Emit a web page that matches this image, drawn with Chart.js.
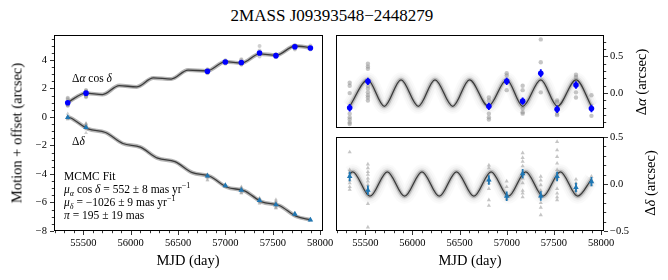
<!DOCTYPE html>
<html lang="en">
<head>
<meta charset="UTF-8">
<title>2MASS J09393548−2448279</title>
<script src="https://cdn.jsdelivr.net/npm/chart.js"></script>
<style>
  body { margin: 0; background: #fff; font-family: 'Liberation Serif', serif; color: #000; }
  #fig { position: relative; width: 668px; height: 280px; overflow: hidden; }
  canvas { position: absolute; }
  .txt { position: absolute; white-space: nowrap; }
  .rot { transform: translate(-50%, -50%) rotate(-90deg); }
  .cen { transform: translate(-50%, -50%); }
  sup, sub { font-size: 0.7em; line-height: 0; }
</style>
</head>
<body>
<div id="fig">
  <canvas id="motion" width="340" height="252" style="left:0;top:28px"></canvas>
  <canvas id="raRes" width="338" height="105" style="left:330px;top:28px"></canvas>
  <canvas id="decRes" width="338" height="150" style="left:330px;top:130px"></canvas>

  <div class="txt cen" style="left:332px;top:16px;font-size:17px">2MASS J09393548−2448279</div>
  <div class="txt rot" style="left:17px;top:133px;font-size:14.5px">Motion + offset (arcsec)</div>
  <div class="txt cen" style="left:188px;top:260px;font-size:14.5px">MJD (day)</div>
  <div class="txt cen" style="left:470px;top:260px;font-size:14.5px">MJD (day)</div>
  <div class="txt rot" style="left:641px;top:82px;font-size:14.5px">Δ<i>α</i> (arcsec)</div>
  <div class="txt rot" style="left:650px;top:183px;font-size:14.5px">Δ<i>δ</i> (arcsec)</div>

  <div class="txt" style="left:72px;top:72px;font-size:11.5px">Δ<i>α</i> cos <i>δ</i></div>
  <div class="txt" style="left:72px;top:135px;font-size:11.5px">Δ<i>δ</i></div>
  <div class="txt" style="left:64px;top:170px;font-size:11.5px;line-height:13px">MCMC Fit<br><i>μ</i><sub><i>α</i></sub> cos <i>δ</i> = 552 ± 8 mas yr<sup>−1</sup><br><i>μ</i><sub><i>δ</i></sub> = −1026 ± 9 mas yr<sup>−1</sup><br><i>π</i> = 195 ± 19 mas</div>
</div>

<script>
// observation epochs (MJD)
const epochs = [55335, 55528, 56810, 56999, 57168, 57360, 57533, 57733, 57897];

// left panel: mean positions per epoch (arcsec)
const raLeft  = [1.00, 1.67, 3.21, 3.86, 3.82, 4.49, 4.30, 4.93, 4.84];
const decLeft = [-0.03, -0.73, -4.13, -4.81, -5.13, -5.86, -6.16, -6.81, -7.23];

// left panel: single frames per epoch
const greyRaLeft = [
  [1.34, 1.30, 1.20, 0.92, 0.87, 0.84, 0.80, 0.78],
  [1.89, 1.85, 1.82, 1.59, 1.55, 1.50, 1.46, 1.43, 1.39],
  [3.35, 3.32, 3.14, 3.09, 3.06],
  [3.97, 3.94, 3.74],
  [4.05, 3.99, 3.74, 3.69, 3.67],
  [4.97, 4.66, 4.25],
  [4.40, 4.38, 4.22, 4.20],
  [5.05, 5.02, 4.81, 4.74],
  [5.02, 4.74]
];
const greyDecLeft = [
  [0.23, 0.04, 0.00, -0.03, -0.07, -0.10, -0.14, -0.17],
  [-0.44, -0.48, -0.51, -0.55, -0.59, -0.62, -0.66, -0.71, -0.75, -0.86, -1.11],
  [-4.03, -4.05, -4.18, -4.22, -4.27, -4.39, -4.45],
  [-4.73, -4.78, -4.87, -4.91],
  [-4.89, -4.94, -4.98, -5.03, -5.11, -5.16, -5.22, -5.29, -5.32, -5.36],
  [-5.68, -5.72, -5.77, -5.82, -5.90, -5.96, -6.01, -6.09],
  [-5.79, -5.88, -5.95, -6.02, -6.09, -6.18, -6.29, -6.34, -6.38, -6.41],
  [-6.75, -6.79, -6.86, -6.91],
  [-7.18, -7.21, -7.27]
];

// right panels: residual (parallax) per epoch
const raRes  = [-0.20, 0.16, -0.18, 0.16, -0.11, 0.27, -0.22, 0.11, -0.21];
const raErr  = [0.05, 0.05, 0.05, 0.05, 0.05, 0.055, 0.05, 0.05, 0.05];
const decRes = [0.08, -0.065, 0.043, -0.13, 0.11, -0.127, 0.08, -0.037, 0.025];
const decErr = [0.05, 0.05, 0.05, 0.05, 0.05, 0.05, 0.05, 0.05, 0.05];

const greyRaRes = [
  [0.14, 0.10, 0.00, -0.28, -0.33, -0.36, -0.40, -0.42],
  [0.40, 0.36, 0.33, 0.10, 0.06, 0.01, -0.03, -0.06, -0.10],
  [-0.06, -0.10, -0.28, -0.33, -0.36],
  [0.27, 0.24, 0.04],
  [0.10, 0.04, -0.21, -0.26, -0.28],
  [0.73, 0.42, 0.01],
  [-0.10, -0.12, -0.28, -0.30],
  [0.25, 0.22, 0.01, -0.06],
  [-0.03, -0.31]
];
const greyDecRes = [
  [0.34, 0.15, 0.12, 0.08, 0.04, 0.01, -0.03, -0.06],
  [0.21, 0.17, 0.13, 0.10, 0.06, 0.03, -0.01, -0.07, -0.10, -0.21, -0.46],
  [0.20, 0.17, 0.04, 0.01, -0.05, -0.17, -0.23],
  [0.03, -0.03, -0.12, -0.16],
  [0.33, 0.28, 0.24, 0.19, 0.12, 0.06, 0.01, -0.07, -0.10, -0.14],
  [0.08, 0.04, -0.01, -0.07, -0.14, -0.20, -0.25, -0.33],
  [0.45, 0.36, 0.29, 0.22, 0.15, 0.06, -0.05, -0.10, -0.14, -0.17],
  [0.05, 0.01, -0.07, -0.11],
  [0.08, 0.04, -0.01]
];

// model curves (read at turning points)
const raModelT   = [55335, 55526, 55702, 55879, 56062, 56239, 56427, 56605, 56804, 56999, 57169, 57360, 57536, 57734, 57897];
const raModelRes = [-0.18, 0.18, -0.18, 0.18, -0.18, 0.18, -0.18, 0.18, -0.18, 0.18, -0.18, 0.18, -0.18, 0.18, -0.18];
const raModelAbs = [1.02, 1.67, 1.57, 2.20, 2.11, 2.74, 2.66, 3.29, 3.23, 3.88, 3.78, 4.42, 4.33, 4.98, 4.87];

const decModelT   = [55335, 55367, 55550, 55734, 55917, 56101, 56284, 56467, 56651, 56834, 57017, 57201, 57384, 57568, 57751, 57897];
const decModelRes = [0.11, 0.13, -0.13, 0.13, -0.13, 0.13, -0.13, 0.13, -0.13, 0.13, -0.13, 0.13, -0.13, 0.13, -0.13, 0.05];
const decModelAbs = [0.00, -0.07, -0.84, -1.09, -1.86, -2.12, -2.89, -3.14, -3.91, -4.16, -4.93, -5.18, -5.96, -6.21, -6.98, -7.21];

// tick labels
const xTicks = [55500, 56000, 56500, 57000, 57500, 58000];
const motionTicks = [-8, -6, -4, -2, 0, 2, 4];
const raTicks = [0, 0.5];
const decTicks = [-0.5, 0, 0.5];

const RA_BLUE = '#0000ff';
const DEC_BLUE = '#1f77b4';
const tickFont = { family: "'Liberation Serif', serif", size: 10.5 };

function pairs(xs, ys) { return xs.map((x, i) => ({ x: x, y: ys[i] })); }
function spread(xs, groups) {
  const pts = [];
  groups.forEach((g, i) => g.forEach(v => pts.push({ x: xs[i], y: v })));
  return pts;
}
function fmt(v, d) { return (v < 0 ? '−' : '') + Math.abs(v).toFixed(d); }

// frame + major/minor ticks like matplotlib
const frameTicks = {
  id: 'frameTicks',
  afterDraw(chart, args, opts) {
    const { ctx, chartArea: a, scales } = chart;
    ctx.save();
    ctx.strokeStyle = '#000';
    ctx.lineWidth = 1;
    ctx.strokeRect(a.left + 0.5, a.top + 0.5, a.right - a.left - 1, a.bottom - a.top - 1);
    ctx.lineWidth = 0.8;
    ctx.beginPath();
    (opts.axes || []).forEach(ax => {
      const s = scales[ax.id];
      const n0 = Math.ceil(s.min / ax.minor - 1e-9), n1 = Math.floor(s.max / ax.minor + 1e-9);
      for (let n = n0; n <= n1; n++) {
        const len = (n % ax.ratio === 0) ? 4 : 2.2;
        const p = Math.round(s.getPixelForValue(n * ax.minor)) + 0.5;
        if (ax.side === 'bottom') { ctx.moveTo(p, a.bottom); ctx.lineTo(p, a.bottom + len); }
        if (ax.side === 'left') { ctx.moveTo(a.left, p); ctx.lineTo(a.left - len, p); }
        if (ax.side === 'right') { ctx.moveTo(a.right, p); ctx.lineTo(a.right + len, p); }
      }
    });
    ctx.stroke();
    ctx.restore();
  }
};

// vertical error bars for datasets that carry errorBars
const errorBars = {
  id: 'errorBars',
  afterDatasetsDraw(chart) {
    const { ctx, scales } = chart;
    chart.data.datasets.forEach((ds, i) => {
      if (!ds.errorBars) return;
      const meta = chart.getDatasetMeta(i);
      ctx.save();
      ctx.strokeStyle = ds.backgroundColor;
      ctx.lineWidth = 1.8;
      ctx.beginPath();
      meta.data.forEach((pt, j) => {
        const v = ds.data[j].y, e = ds.errorBars[j];
        ctx.moveTo(pt.x, scales.y.getPixelForValue(v - e));
        ctx.lineTo(pt.x, scales.y.getPixelForValue(v + e));
      });
      ctx.stroke();
      ctx.restore();
    });
  }
};

function curve(pts, width, color) {
  return { data: pts, showLine: true, pointRadius: 0, borderWidth: width, borderColor: color,
           cubicInterpolationMode: 'monotone', fill: false };
}
function marks(pts, color, style, r) {
  return { data: pts, showLine: false, pointStyle: style, pointRadius: r,
           backgroundColor: color, borderColor: color, borderWidth: 0 };
}

function xScale(show) {
  return {
    type: 'linear', min: 55190, max: 58030, display: show,
    grid: { display: false, drawTicks: false }, border: { display: false },
    ticks: { font: tickFont, color: '#000', padding: 6, maxRotation: 0, callback: v => String(v) },
    afterBuildTicks: s => { s.ticks = xTicks.map(v => ({ value: v })); },
    afterFit: s => { s.height = show ? 49 : 0; s.paddingLeft = 0; s.paddingRight = 0; }
  };
}
function yScale(min, max, ticks, digits, pos, width, pad) {
  return {
    type: 'linear', min: min, max: max, position: pos,
    grid: { display: false, drawTicks: false }, border: { display: false },
    ticks: { font: tickFont, color: '#000', padding: pad, callback: v => fmt(v, digits) },
    afterBuildTicks: s => { s.ticks = ticks.map(v => ({ value: v })); },
    afterFit: s => { s.width = width; s.paddingTop = 0; s.paddingBottom = 0; }
  };
}
const baseOpts = { responsive: false, animation: false, devicePixelRatio: 1 };
const quiet = { legend: { display: false }, tooltip: { enabled: false } };

// left: absolute motion
new Chart(document.getElementById('motion'), {
  type: 'scatter',
  data: { datasets: [
    marks(pairs(epochs, raLeft), RA_BLUE, 'circle', 2.8),
    marks(pairs(epochs, decLeft), DEC_BLUE, 'triangle', 3.2),
    curve(pairs(raModelT, raModelAbs), 1.3, '#3c3c3c'),
    curve(pairs(decModelT, decModelAbs), 1.3, '#3c3c3c'),
    curve(pairs(raModelT, raModelAbs), 4, 'rgba(120,120,120,0.55)'),
    curve(pairs(decModelT, decModelAbs), 4, 'rgba(120,120,120,0.55)'),
    marks(spread(epochs, greyRaLeft), 'rgba(150,150,150,0.45)', 'circle', 2),
    marks(spread(epochs, greyDecLeft), 'rgba(150,150,150,0.45)', 'triangle', 2.2)
  ] },
  options: Object.assign({}, baseOpts, {
    layout: { padding: { left: 0, right: 17, top: 7, bottom: 0 } },
    scales: { x: xScale(true), y: yScale(-8, 5.75, motionTicks, 0, 'left', 54, 7) },
    plugins: Object.assign({}, quiet, { frameTicks: { axes: [
      { id: 'x', side: 'bottom', minor: 100, ratio: 5 },
      { id: 'y', side: 'left', minor: 0.5, ratio: 4 }
    ] } })
  }),
  plugins: [frameTicks, errorBars]
});

function blur(ts, vs) {
  const pts = pairs(ts, vs);
  return [
    curve(pts, 1.3, '#3a3a3a'),
    curve(pts, 4, 'rgba(110,110,110,0.35)'),
    curve(pts, 7, 'rgba(140,140,140,0.14)'),
    curve(pts, 11, 'rgba(150,150,150,0.08)'),
    curve(pts, 15, 'rgba(160,160,160,0.05)')
  ];
}

// right top: RA residual
new Chart(document.getElementById('raRes'), {
  type: 'scatter',
  data: { datasets: [
    Object.assign(marks(pairs(epochs, raRes), RA_BLUE, 'circle', 2.8), { errorBars: raErr })
  ].concat(blur(raModelT, raModelRes), [
    marks(spread(epochs, greyRaRes), 'rgba(140,140,140,0.5)', 'circle', 2.2)
  ]) },
  options: Object.assign({}, baseOpts, {
    layout: { padding: { left: 6, right: 0, top: 7, bottom: 5 } },
    scales: { x: xScale(false), y: yScale(-0.475, 0.79, raTicks, 1, 'right', 64, 6) },
    plugins: Object.assign({}, quiet, { frameTicks: { axes: [
      { id: 'y', side: 'right', minor: 0.1, ratio: 5 }
    ] } })
  }),
  plugins: [frameTicks, errorBars]
});

// right bottom: Dec residual
new Chart(document.getElementById('decRes'), {
  type: 'scatter',
  data: { datasets: [
    Object.assign(marks(pairs(epochs, decRes), DEC_BLUE, 'triangle', 3.2), { errorBars: decErr })
  ].concat(blur(decModelT, decModelRes), [
    marks(spread(epochs, greyDecRes), 'rgba(140,140,140,0.5)', 'triangle', 2.4)
  ]) },
  options: Object.assign({}, baseOpts, {
    layout: { padding: { left: 6, right: 0, top: 7, bottom: 0 } },
    scales: { x: xScale(true), y: yScale(-0.5, 0.5, decTicks, 1, 'right', 64, 6) },
    plugins: Object.assign({}, quiet, { frameTicks: { axes: [
      { id: 'x', side: 'bottom', minor: 100, ratio: 5 },
      { id: 'y', side: 'right', minor: 0.1, ratio: 5 }
    ] } })
  }),
  plugins: [frameTicks, errorBars]
});
</script>
</body>
</html>
